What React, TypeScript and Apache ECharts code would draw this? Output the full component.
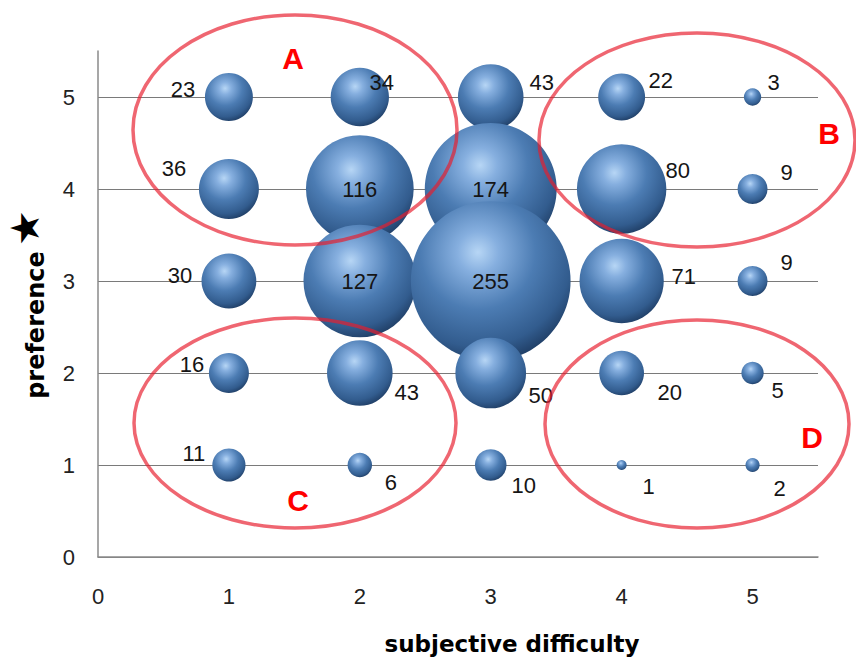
import React, { useEffect, useRef } from "react";
import * as echarts from "echarts";

// ---- data ----
const X_VALUES = [1, 2, 3, 4, 5];
const Y_VALUES = [5, 4, 3, 2, 1];
const COUNTS_Y5 = [23, 34, 43, 22, 3];
const COUNTS_Y4 = [36, 116, 174, 80, 9];
const COUNTS_Y3 = [30, 127, 255, 71, 9];
const COUNTS_Y2 = [16, 43, 50, 20, 5];
const COUNTS_Y1 = [11, 6, 10, 1, 2];
const COUNT_ROWS = [COUNTS_Y5, COUNTS_Y4, COUNTS_Y3, COUNTS_Y2, COUNTS_Y1];
const X_TITLE = "subjective difficulty";
const Y_TITLE = "preference";
const GROUP_LETTERS = ["A", "B", "C", "D"];

// ---- styling (label placement per bubble, px offsets) ----
const LABEL_OFFSETS: number[][][] = [
  [[-46, -8], [22, -15], [51, -15], [39, -17], [21, -15]],
  [[-55, -21], [0, 0], [0, 0], [56, -19], [34, -17]],
  [[-49, -6], [0, 0], [0, 0], [62, -5], [34, -19]],
  [[-37, -9], [47, 19], [50, 22], [48, 19], [25, 17]],
  [[-35, -12], [31, 17], [33, 20], [27, 21], [27, 23]],
];

const ELLIPSES = [
  { cx: 295, cy: 130, rx: 162, ry: 115 },
  { cx: 697, cy: 140, rx: 158, ry: 107 },
  { cx: 295, cy: 423, rx: 161, ry: 105 },
  { cx: 697, cy: 424, rx: 152, ry: 104 },
];
const LETTER_POS = [
  [293, 58],
  [829, 133],
  [298, 500],
  [812, 437],
];

export default function App() {
  const ref = useRef<HTMLDivElement>(null);

  useEffect(() => {
    if (!ref.current) return;
    const chart = echarts.init(ref.current, undefined, { renderer: "svg" });

    const data: any[] = [];
    COUNT_ROWS.forEach((row, r) => {
      row.forEach((v, c) => {
        data.push({
          value: [X_VALUES[c], Y_VALUES[r], v],
          label: { offset: LABEL_OFFSETS[r][c] },
        });
      });
    });

    const sphere = new echarts.graphic.RadialGradient(0.42, 0.32, 0.72, [
      { offset: 0, color: "#b7d6f5" },
      { offset: 0.18, color: "#86afdf" },
      { offset: 0.5, color: "#4c7cb3" },
      { offset: 0.82, color: "#325c8e" },
      { offset: 1, color: "#1d3a60" },
    ]);

    const axisLabelStyle = {
      color: "#222",
      fontSize: 22,
      fontFamily: "Liberation Sans",
    };

    const graphics: any[] = [];
    ELLIPSES.forEach((e) => {
      graphics.push({
        type: "ellipse",
        shape: { cx: e.cx, cy: e.cy, rx: e.rx, ry: e.ry },
        style: { fill: "none", stroke: "rgba(232,30,45,0.68)", lineWidth: 3.5 },
        z: 100,
        silent: true,
      });
    });
    GROUP_LETTERS.forEach((t, i) => {
      graphics.push({
        type: "text",
        x: LETTER_POS[i][0],
        y: LETTER_POS[i][1],
        style: {
          text: t,
          fill: "#ff0000",
          font: "bold 30px 'Liberation Sans'",
          textAlign: "center",
          textVerticalAlign: "middle",
        },
        z: 101,
      });
    });
    graphics.push({
      type: "text",
      x: 512,
      y: 644,
      style: {
        text: X_TITLE,
        fill: "#000",
        font: "bold 23px 'DejaVu Sans'",
        textAlign: "center",
        textVerticalAlign: "middle",
      },
    });
    graphics.push({
      type: "text",
      x: 36,
      y: 325,
      rotation: Math.PI / 2,
      style: {
        text: Y_TITLE,
        fill: "#000",
        font: "bold 24px 'DejaVu Sans'",
        textAlign: "center",
        textVerticalAlign: "middle",
      },
    });
    graphics.push({
      type: "text",
      x: 25,
      y: 228,
      rotation: Math.PI / 2,
      style: {
        text: "★",
        fill: "#000",
        font: "40px 'DejaVu Sans'",
        textAlign: "center",
        textVerticalAlign: "middle",
      },
    });

    chart.setOption({
      animation: false,
      grid: { left: 98, right: 38, top: 51, bottom: 107, containLabel: false },
      xAxis: {
        type: "value",
        min: 0,
        max: 5.5,
        interval: 1,
        axisLine: { show: true, lineStyle: { color: "#8a8a8a", width: 1.5 } },
        axisTick: { show: false },
        splitLine: { show: false },
        axisLabel: {
          ...axisLabelStyle,
          margin: 28,
          showMaxLabel: false,
          formatter: (v: number) => (Number.isInteger(v) ? String(v) : ""),
        },
      },
      yAxis: {
        type: "value",
        min: 0,
        max: 5.5,
        interval: 1,
        axisLine: { show: true, lineStyle: { color: "#8a8a8a", width: 1.5 } },
        axisTick: { show: false },
        splitLine: {
          show: true,
          showMaxLine: false,
          lineStyle: { color: "#7a7a7a", width: 1.2 },
        },
        axisLabel: {
          ...axisLabelStyle,
          margin: 23,
          showMaxLabel: false,
          formatter: (v: number) => (Number.isInteger(v) ? String(v) : ""),
        },
      },
      series: [
        {
          type: "scatter",
          data,
          symbol: "circle",
          symbolSize: (val: number[]) => 10 * Math.sqrt(val[2]),
          itemStyle: { color: sphere, opacity: 1 },
          emphasis: { disabled: true },
          label: {
            show: true,
            position: "inside",
            formatter: (p: any) => String(p.value[2]),
            color: "#151515",
            fontSize: 22,
            fontFamily: "Liberation Sans",
          },
        },
      ],
      graphic: graphics,
    });

    return () => chart.dispose();
  }, []);

  return (
    <div
      ref={ref}
      style={{ position: "absolute", left: 0, top: 0, width: 856, height: 664, background: "#fff" }}
    />
  );
}
